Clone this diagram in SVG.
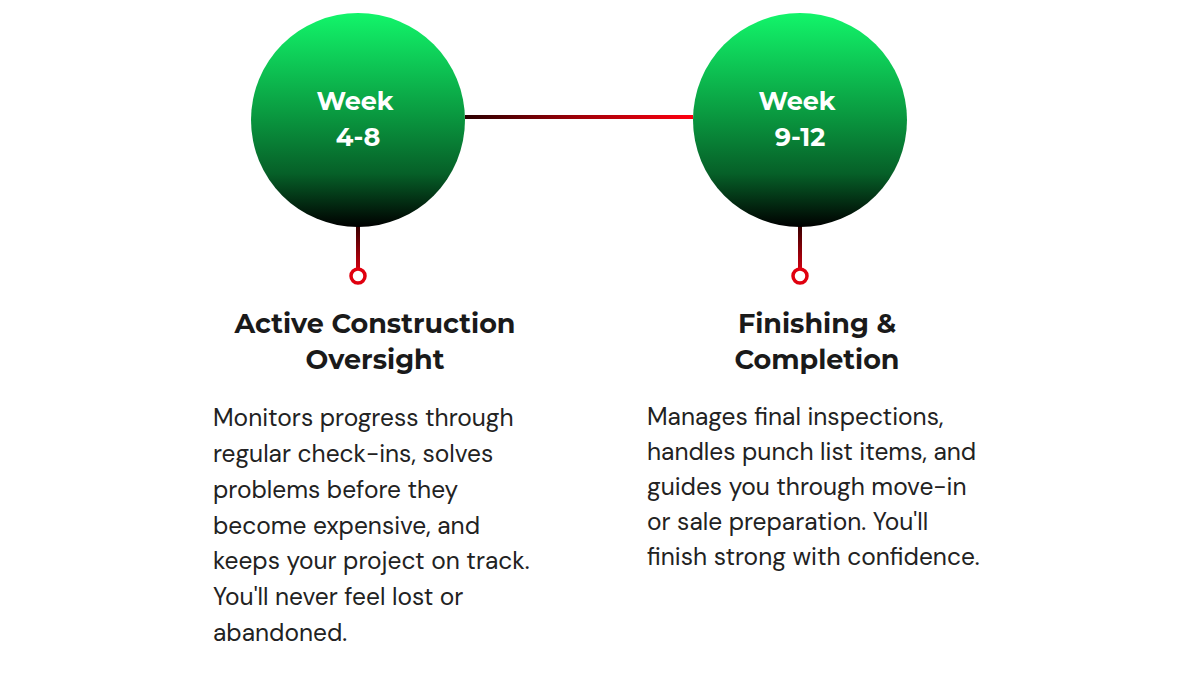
<svg xmlns="http://www.w3.org/2000/svg" width="1200" height="678" viewBox="0 0 1200 678">
<defs>
<linearGradient id="gc" x1="0" y1="0" x2="0" y2="1">
<stop offset="0" stop-color="#12f56a"/>
<stop offset="0.45" stop-color="#0a9e42"/>
<stop offset="0.75" stop-color="#066028"/>
<stop offset="1" stop-color="#000"/>
</linearGradient>
<linearGradient id="gh" gradientUnits="userSpaceOnUse" x1="465" y1="0" x2="693" y2="0">
<stop offset="0" stop-color="#2a0000"/>
<stop offset="0.5" stop-color="#a00008"/>
<stop offset="1" stop-color="#ff0010"/>
</linearGradient>
<linearGradient id="gv" gradientUnits="userSpaceOnUse" x1="0" y1="227" x2="0" y2="270">
<stop offset="0" stop-color="#3a0000"/>
<stop offset="1" stop-color="#d00010"/>
</linearGradient>
<style>
.wk{font-family:Montserrat,"Inter","Open Sans",sans-serif;font-weight:700;font-size:25.5px;fill:#fff;text-anchor:middle}
.hd{font-family:Montserrat,"Inter","Open Sans",sans-serif;font-weight:700;font-size:27px;fill:#1a1a1a;text-anchor:middle}
.bd{font-family:"DM Sans","Inter","Open Sans",sans-serif;font-weight:400;font-size:24.5px;fill:#222}
.ring{fill:#fff;stroke:#e0000f;stroke-width:3.5}
</style>
</defs>
<rect width="1200" height="678" fill="#fff"/>
<g id="connectors">
<line x1="465" y1="117" x2="693" y2="117" stroke="url(#gh)" stroke-width="4"/>
<line x1="358" y1="226" x2="358" y2="269" stroke="url(#gv)" stroke-width="4"/>
<line x1="800" y1="226" x2="800" y2="269" stroke="url(#gv)" stroke-width="4"/>
</g>
<g id="node-week-4-8">
<circle cx="358" cy="120" r="107" fill="url(#gc)"/>
<text class="wk" x="355" y="110">Week</text>
<text class="wk" x="358" y="146">4-8</text>
<circle class="ring" cx="358" cy="276" r="7"/>
</g>
<g id="node-week-9-12">
<circle cx="800" cy="120" r="107" fill="url(#gc)"/>
<text class="wk" x="797" y="110">Week</text>
<text class="wk" x="800" y="146">9-12</text>
<circle class="ring" cx="800" cy="276" r="7"/>
</g>
<g id="text-active">
<text class="hd" x="375" y="333">Active Construction</text>
<text class="hd" x="375" y="369">Oversight</text>
<text class="bd" x="213" y="426">Monitors progress through</text>
<text class="bd" x="213" y="462">regular check-ins, solves</text>
<text class="bd" x="213" y="498">problems before they</text>
<text class="bd" x="213" y="534">become expensive, and</text>
<text class="bd" x="213" y="569">keeps your project on track.</text>
<text class="bd" x="213" y="605">You'll never feel lost or</text>
<text class="bd" x="213" y="641">abandoned.</text>
</g>
<g id="text-finishing">
<text class="hd" x="817" y="333">Finishing &amp;</text>
<text class="hd" x="817" y="369">Completion</text>
<text class="bd" x="647" y="425">Manages final inspections,</text>
<text class="bd" x="647" y="460">handles punch list items, and</text>
<text class="bd" x="647" y="495">guides you through move-in</text>
<text class="bd" x="647" y="530">or sale preparation. You'll</text>
<text class="bd" x="647" y="565">finish strong with confidence.</text>
</g>
</svg>
